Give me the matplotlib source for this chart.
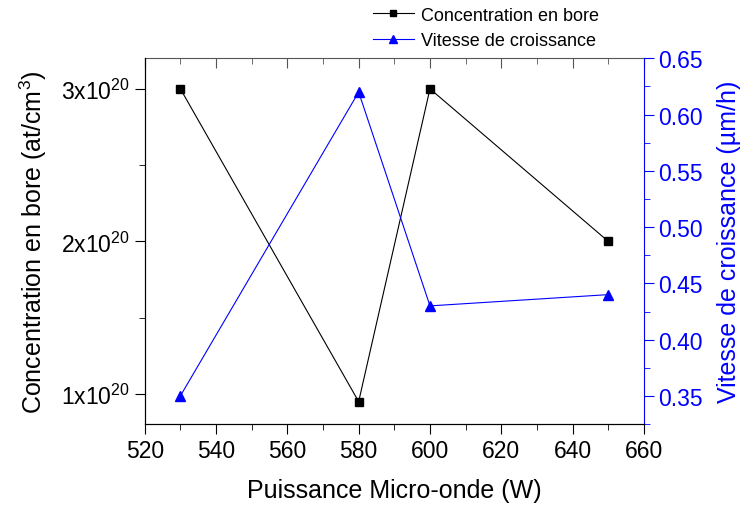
import matplotlib
matplotlib.use("Agg")
from matplotlib import pyplot as plt
from matplotlib.ticker import MultipleLocator, FixedLocator, FormatStrFormatter
from matplotlib.lines import Line2D

plt.rcParams['font.family'] = ['Liberation Sans', 'DejaVu Sans']
plt.rcParams['mathtext.fontset'] = 'custom'
plt.rcParams['mathtext.rm'] = 'Liberation Sans'
plt.rcParams['mathtext.it'] = 'Liberation Sans:italic'

# data
puissance = [530, 580, 600, 650]
concentration = [3.0e20, 0.95e20, 3.0e20, 2.0e20]
vitesse = [0.35, 0.62, 0.43, 0.44]

conc_ticks = [1e20, 2e20, 3e20]
conc_labels = ['1x10$^{20}$', '2x10$^{20}$', '3x10$^{20}$']

fig = plt.figure(figsize=(7.41, 5.06), dpi=100)
ax = fig.add_axes([0.1953, 0.160, 0.869 - 0.1953, 0.8828 - 0.160])
ax2 = ax.twinx()

ax.plot(puissance, concentration, color='black', lw=0.8, marker='s', ms=6)
ax2.plot(puissance, vitesse, color='blue', lw=0.8, marker='^', ms=7)

ax.set_xlim(520, 660)
ax.set_ylim(0.803e20, 3.2e20)
ax2.set_ylim(0.325, 0.65)

ax.xaxis.set_major_locator(MultipleLocator(20))
ax.xaxis.set_minor_locator(MultipleLocator(10))
ax.yaxis.set_major_locator(FixedLocator(conc_ticks))
ax.yaxis.set_minor_locator(FixedLocator([1.5e20, 2.5e20]))
ax.set_yticklabels(conc_labels)
ax2.yaxis.set_major_locator(MultipleLocator(0.05))
ax2.yaxis.set_minor_locator(MultipleLocator(0.025))
ax2.yaxis.set_major_formatter(FormatStrFormatter('%.2f'))

ax.tick_params(axis='x', which='both', direction='out', top=False, labelsize=16.5)
ax.tick_params(axis='x', which='major', length=7)
ax.tick_params(axis='x', which='minor', length=4)
ax.tick_params(axis='y', which='both', direction='out', labelsize=16.5, right=False)
ax.tick_params(axis='y', which='major', length=7)
ax.tick_params(axis='y', which='minor', length=4)
ax2.tick_params(axis='y', which='both', direction='out', colors='blue', labelsize=16.5)
ax2.tick_params(axis='y', which='major', length=7)
ax2.tick_params(axis='y', which='minor', length=4)

# top axis: inward ticks, no labels
top = ax.secondary_xaxis('top')
top.xaxis.set_major_locator(MultipleLocator(20))
top.xaxis.set_minor_locator(MultipleLocator(10))
top.tick_params(axis='x', which='both', direction='in', labeltop=False, colors='#555555')
top.tick_params(axis='x', which='major', length=7)
top.tick_params(axis='x', which='minor', length=4)
top.spines['top'].set_color('#555555')

ax2.spines['right'].set_color('blue')
ax.spines['top'].set_visible(False)
ax2.spines['top'].set_visible(False)
ax.spines['right'].set_visible(False)

ax.set_xlabel('Puissance Micro-onde (W)', fontsize=18, labelpad=12)
ax.set_ylabel('Concentration en bore (at/cm$^3$)', fontsize=18, labelpad=9)
ax2.set_ylabel('Vitesse de croissance (µm/h)', fontsize=18, color='blue', labelpad=10)

handles = [Line2D([], [], color='black', lw=0.8, marker='s', ms=4.5),
           Line2D([], [], color='blue', lw=0.8, marker='^', ms=5.5)]
fig.legend(handles, ['Concentration en bore', 'Vitesse de croissance'],
           loc='upper left', bbox_to_anchor=(0.493, 0.999), frameon=False,
           fontsize=13, handlelength=2.3, handletextpad=0.4, labelspacing=0.45,
           borderaxespad=0)

fig.savefig('out.png', dpi=100)
